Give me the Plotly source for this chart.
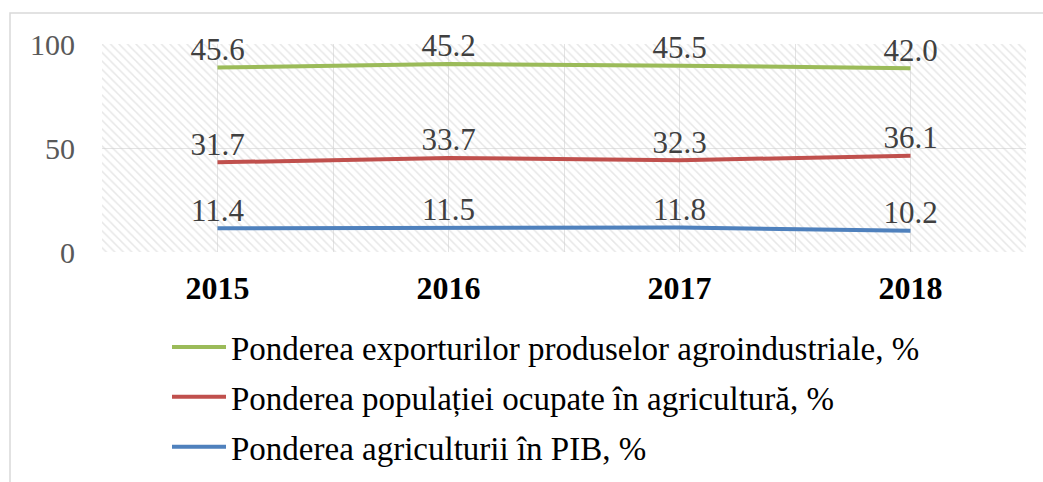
import numpy as np
import plotly.graph_objects as go

years = ["2015", "2016", "2017", "2018"]
pib = [11.4, 11.5, 11.8, 10.2]
populatie = [31.7, 33.7, 32.3, 36.1]
exporturi = [45.6, 45.2, 45.5, 42.0]

names = [
    "Ponderea exporturilor produselor agroindustriale, %",
    "Ponderea populației ocupate în agricultură, %",
    "Ponderea agriculturii în PIB, %",
]
colors = ["#9BBB59", "#C0504D", "#4F81BD"]

y_max = 100
x = np.arange(len(years))

# stacked line (Excel "stacked line" type)
s_blue = np.array(pib)
s_red = s_blue + np.array(populatie)
s_green = s_red + np.array(exporturi)

FONT = "Times New Roman, Liberation Serif, serif"

W, H = 1043, 482
L, R, T, B = 102, 17, 44, 230
pw, ph = W - L - R, H - T - B

fig = go.Figure()

# hatched plot background
fig.add_trace(go.Bar(
    x=x, y=[y_max] * len(years), width=1,
    marker=dict(color="rgba(0,0,0,0)", line=dict(width=0),
                pattern=dict(shape="\\", fgcolor="#cfcfcf", bgcolor="rgba(0,0,0,0)",
                             size=6, solidity=0.25)),
    hoverinfo="skip", showlegend=False,
))

series = [(s_green, exporturi), (s_red, populatie), (s_blue, pib)]
for i, ((ys, vals), name, col) in enumerate(zip(series, names, colors)):
    fig.add_trace(go.Scatter(
        x=x, y=ys, mode="lines+text", name=name,
        line=dict(color=col, width=4),
        text=[f"{v:.1f}" for v in vals], textposition="top center",
        textfont=dict(family=FONT, size=31, color="#404040"),
        legendgroup=f"g{i}", cliponaxis=False,
    ))

fig.update_layout(
    width=W, height=H,
    margin=dict(l=L, r=R, t=T, b=B, autoexpand=False),
    paper_bgcolor="white", plot_bgcolor="white",
    font=dict(family=FONT, color="#595959"),
    showlegend=True,
    legend=dict(
        x=(167 - L) / pw, xanchor="left",
        y=-(319 - (T + ph)) / ph, yanchor="top",
        font=dict(family=FONT, size=33, color="black"),
        tracegroupgap=4, itemwidth=54, bgcolor="rgba(0,0,0,0)",
    ),
    xaxis=dict(
        range=[-0.5, 3.5], tickvals=list(x), ticktext=years,
        tickfont=dict(family=FONT, size=32, color="black", weight="bold"),
        showgrid=True, gridcolor="#e3e3e3", gridwidth=1,
        minor=dict(tickvals=list(x - 0.5) + [x[-1] + 0.5], showgrid=True,
                   gridcolor="#e3e3e3", gridwidth=1),
        ticks="outside", ticklen=8, tickcolor="rgba(0,0,0,0)",
        zeroline=False, showline=False, fixedrange=True,
    ),
    yaxis=dict(
        range=[0, y_max], tickvals=[0, 50, 100],
        tickfont=dict(family=FONT, size=30, color="#595959"),
        showgrid=True, gridcolor="#e3e3e3", gridwidth=1,
        ticks="outside", ticklen=20, tickcolor="rgba(0,0,0,0)",
        zeroline=False, showline=False, fixedrange=True,
    ),
    shapes=[dict(
        type="rect", xref="paper", yref="paper",
        x0=(10 - L) / pw, x1=(W + 20 - L) / pw,
        y0=-(H + 20 - T - ph) / ph, y1=1 + (T - 13) / ph,
        line=dict(color="#d9d9d9", width=1.5), fillcolor="rgba(0,0,0,0)",
        layer="below",
    )],
)

fig.write_html("out.html", config={"displayModeBar": False},
               post_script="document.body.style.margin='0';")
